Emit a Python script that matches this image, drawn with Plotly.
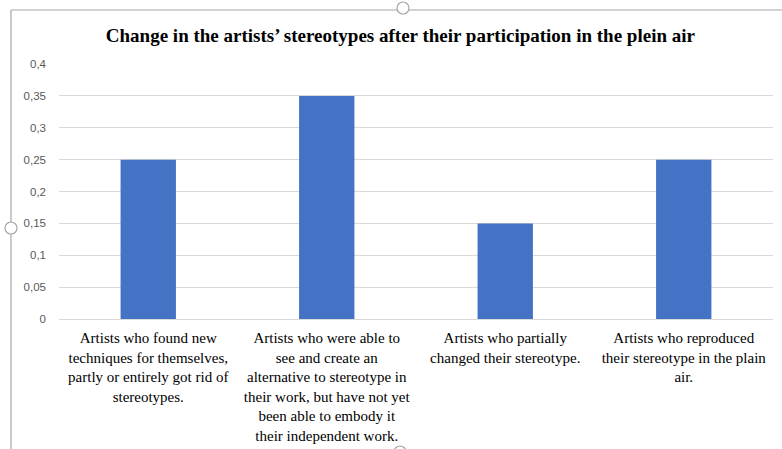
import plotly.graph_objects as go

categories = [
    "Artists who found new<br>techniques for themselves,<br>partly or entirely got rid of<br>stereotypes.",
    "Artists who were able to<br>see and create an<br>alternative to stereotype in<br>their work, but have not yet<br>been able to embody it<br>their independent work.",
    "Artists who partially<br>changed their stereotype.",
    "Artists who reproduced<br>their stereotype in the plain<br>air.",
]
values = [0.25, 0.35, 0.15, 0.25]
y_tickvals = [0, 0.05, 0.1, 0.15, 0.2, 0.25, 0.3, 0.35, 0.4]
y_ticktext = ["0", "0,05", "0,1", "0,15", "0,2", "0,25", "0,3", "0,35", "0,4"]
title = "Change in the artists\u2019 stereotypes after their participation in the plein air"

SERIF = "Liberation Serif"
L, R, T, B = 59, 773, 64, 319
PW, PH = R - L, B - T

def px(x):
    return (x - L) / PW

def py(y):
    return (B - y) / PH

fig = go.Figure(go.Bar(x=categories, y=values, marker_color="#4472C4", marker_line_width=0))

frame = dict(color="#a6a6a6", width=1.2)
handles = []
for (cx, cy) in [(403, 8), (11, 228), (400, 452)]:
    handles.append(dict(type="circle", xref="paper", yref="paper",
                        x0=px(cx - 6), x1=px(cx + 6), y0=py(cy + 6), y1=py(cy - 6),
                        line=dict(color="#a6a6a6", width=1.2), fillcolor="white"))

fig.update_layout(
    width=782, height=449,
    margin=dict(l=L, r=782 - R, t=T, b=449 - B),
    paper_bgcolor="white", plot_bgcolor="white",
    bargap=0.69,
    showlegend=False,
    title=dict(text="<b>" + title + "</b>", x=0.512, xanchor="center", y=0.922, yanchor="middle",
               font=dict(family=SERIF, size=19, color="#000000")),
    xaxis=dict(showgrid=False, showline=True, linecolor="#d9d9d9", linewidth=1,
               tickfont=dict(family=SERIF, size=15, color="#000000"),
               ticks="", tickangle=0, ticklabelstandoff=5, automargin=False),
    yaxis=dict(range=[0, 0.4], tickvals=y_tickvals, ticktext=y_ticktext,
               showgrid=True, gridcolor="#d9d9d9", gridwidth=1, zeroline=False,
               showline=False, ticks="", ticklabelstandoff=12, automargin=False,
               tickfont=dict(family="Liberation Sans", size=11.5, color="#595959")),
    shapes=[
        dict(type="line", xref="paper", yref="paper", x0=px(11), x1=px(782),
             y0=py(10), y1=py(10), line=frame),
        dict(type="line", xref="paper", yref="paper", x0=px(11), x1=px(11),
             y0=py(10), y1=py(449), line=frame),
    ] + handles,
)
fig.write_html("out.html", config={"displayModeBar": False},
               post_script="document.body.style.margin='0';")
